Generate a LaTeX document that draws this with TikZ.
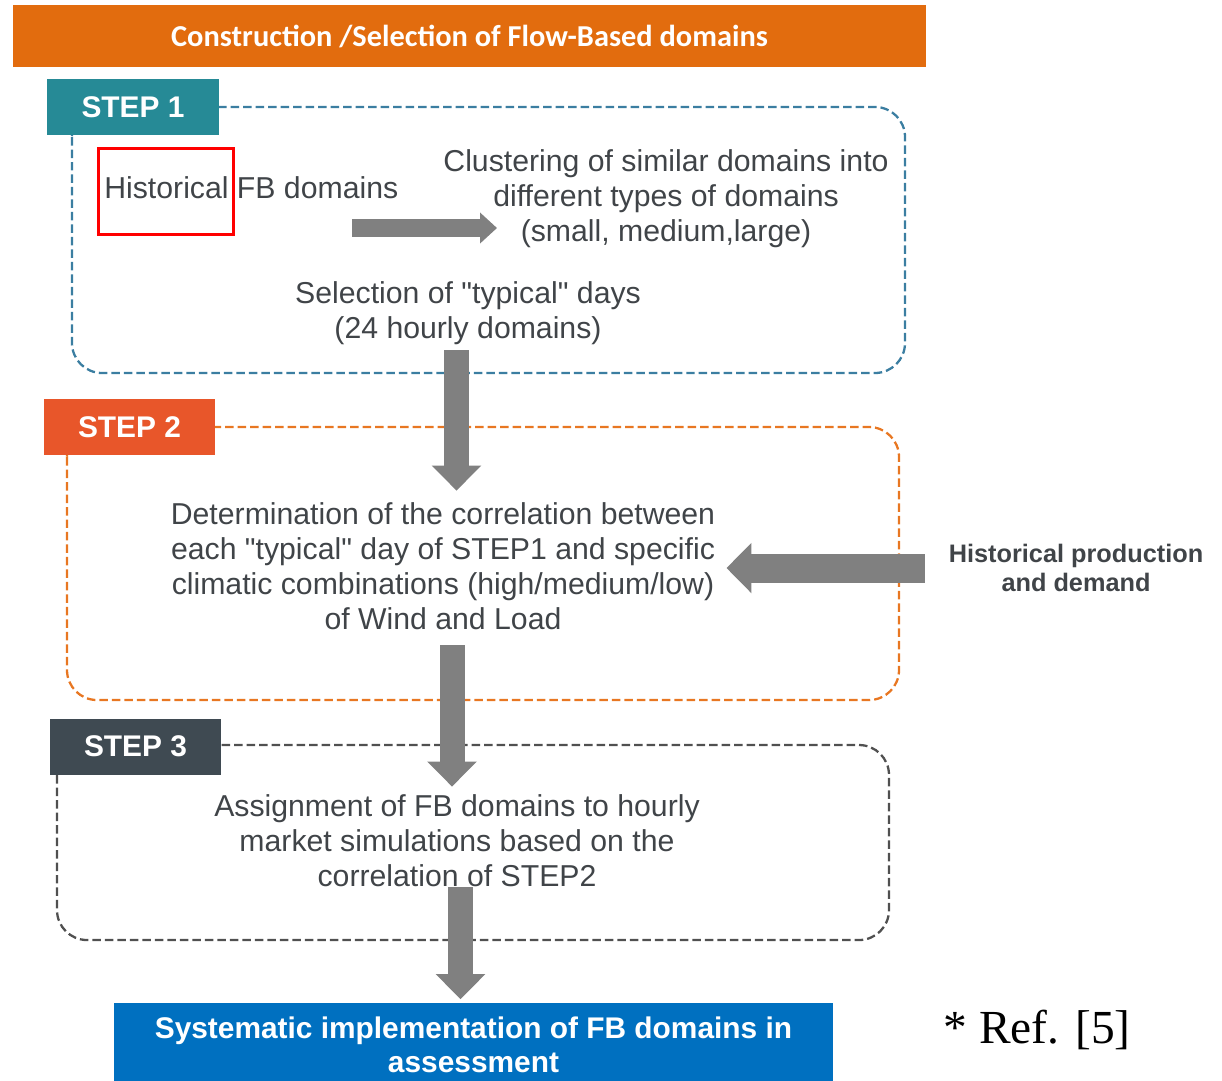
\documentclass[tikz,border=0pt]{standalone}
\usepackage{fontspec}
\setmainfont{Liberation Sans}
\newfontfamily\titlefont{Carlito}
\newfontfamily\reffont{Liberation Serif}
\usepackage{tikz}
\usetikzlibrary{arrows.meta, positioning}
\definecolor{titleorange}{RGB}{226,108,14}
\definecolor{stepteal}{RGB}{38,138,150}
\definecolor{steporange}{RGB}{232,86,42}
\definecolor{stepslate}{RGB}{63,74,82}
\definecolor{frameblue}{RGB}{59,126,161}
\definecolor{frameorange}{RGB}{232,119,34}
\definecolor{framegray}{RGB}{80,80,80}
\definecolor{textgray}{RGB}{64,68,72}
\definecolor{arrowgray}{RGB}{128,128,128}
\definecolor{finalblue}{RGB}{0,112,192}
\tikzstyle{blockarrow} = [draw=arrowgray, line width=0.5cm, -{Triangle[width=0.96cm,length=0.5cm]}]
\tikzset{every node/.style={align=center}}

\begin{document}
\begin{tikzpicture}[x=0.02cm, y=-0.02cm,
    steplbl/.style={fill=#1, text=white, font=\bfseries\fontsize{17}{20}\selectfont,
                    minimum width=3.44cm, minimum height=1.12cm, inner sep=0pt},
    frame/.style={draw=#1, dashed, dash pattern=on 0.17cm off 0.08cm, line width=1.3pt, rounded corners=0.6cm},
    body/.style={text=textgray, font=\fontsize{17.2}{19.9}\selectfont, inner sep=0pt}
]
  \useasboundingbox (0,0) rectangle (1222,1080);

  % title bar
  \node (title) at (469.5,36) [fill=titleorange, text=white, minimum width=18.26cm, minimum height=1.24cm,
        font=\titlefont\bfseries\fontsize{17.3}{20}\selectfont] {Construction /Selection of Flow-Based domains};

  % dashed frames
  \draw[frame=frameblue]   (72,107) rectangle (905,373);
  \draw[frame=frameorange] (67,427) rectangle (899,700);
  \draw[frame=framegray]   (57,745) rectangle (889,940);

  % step labels
  \node (S1) at (133,107)   [steplbl=stepteal]   {STEP 1};
  \node (S2) at (129.5,427) [steplbl=steporange] {STEP 2};
  \node (S3) at (135.5,746.5) [steplbl=stepslate] {STEP 3};

  % step 1
  \node (hist)  at (104,188) [body, anchor=west] {Historical FB domains};
  \draw[red, line width=0.06cm] (98,148) rectangle (233,234);
  \node (clust) at (666,199) [body] {Clustering of similar domains into\\different types of domains\\(small, medium,large)};
  \node (sel)   at (468,313.5) [body] {Selection of \textquotedbl typical\textquotedbl{} days\\(24 hourly domains)};
  \coordinate (r1) at (352,228);
  \coordinate (r2) at (497,228);

  % step 2
  \node (det)  at (443,566.5) [body] {Determination of the correlation between\\each \textquotedbl typical\textquotedbl{} day of STEP1 and specific\\climatic combinations (high/medium/low)\\of Wind and Load};
  \node (prod) at (1076,568) [text=textgray, font=\bfseries\fontsize{14.4}{16.5}\selectfont] {Historical production\\and demand};

  % step 3
  \node (asg) at (457,841) [body] {Assignment of FB domains to hourly\\market simulations based on the\\correlation of STEP2};

  % result
  \node (final) at (473.5,1044.5) [fill=finalblue, text=white, minimum width=14.38cm, minimum height=1.68cm,
        inner sep=0pt, font=\bfseries\fontsize{17}{19.3}\selectfont] {Systematic implementation of FB domains in\\assessment};
  \node (ref) at (1037,1030) [font=\reffont\fontsize{27}{30}\selectfont] {* Ref. [5]};

  % arrows
  \coordinate (d1) at (456.5,0);
  \coordinate (d2) at (452,0);
  \coordinate (d3) at (460.5,0);
  \draw[blockarrow, line width=0.36cm, -{Triangle[width=0.6cm,length=0.34cm]}] (r1) -- (r2);
  \draw[blockarrow] ([yshift=-0.1cm]d1 |- sel.south) -- ([yshift=0.24cm]d1 |- det.north);
  \draw[blockarrow] ([yshift=-0.3cm]d2 |- det.south) -- ([yshift=0.16cm]d2 |- asg.north);
  \draw[blockarrow, line width=0.58cm, -{Triangle[width=0.98cm,length=0.5cm]}] ([xshift=-0.36cm]prod.west) -- ([xshift=0.22cm]det.east |- prod.west);
  \draw[blockarrow] (d3 |- asg.south) -- ([yshift=0.06cm]d3 |- final.north);
\end{tikzpicture}
\end{document}
